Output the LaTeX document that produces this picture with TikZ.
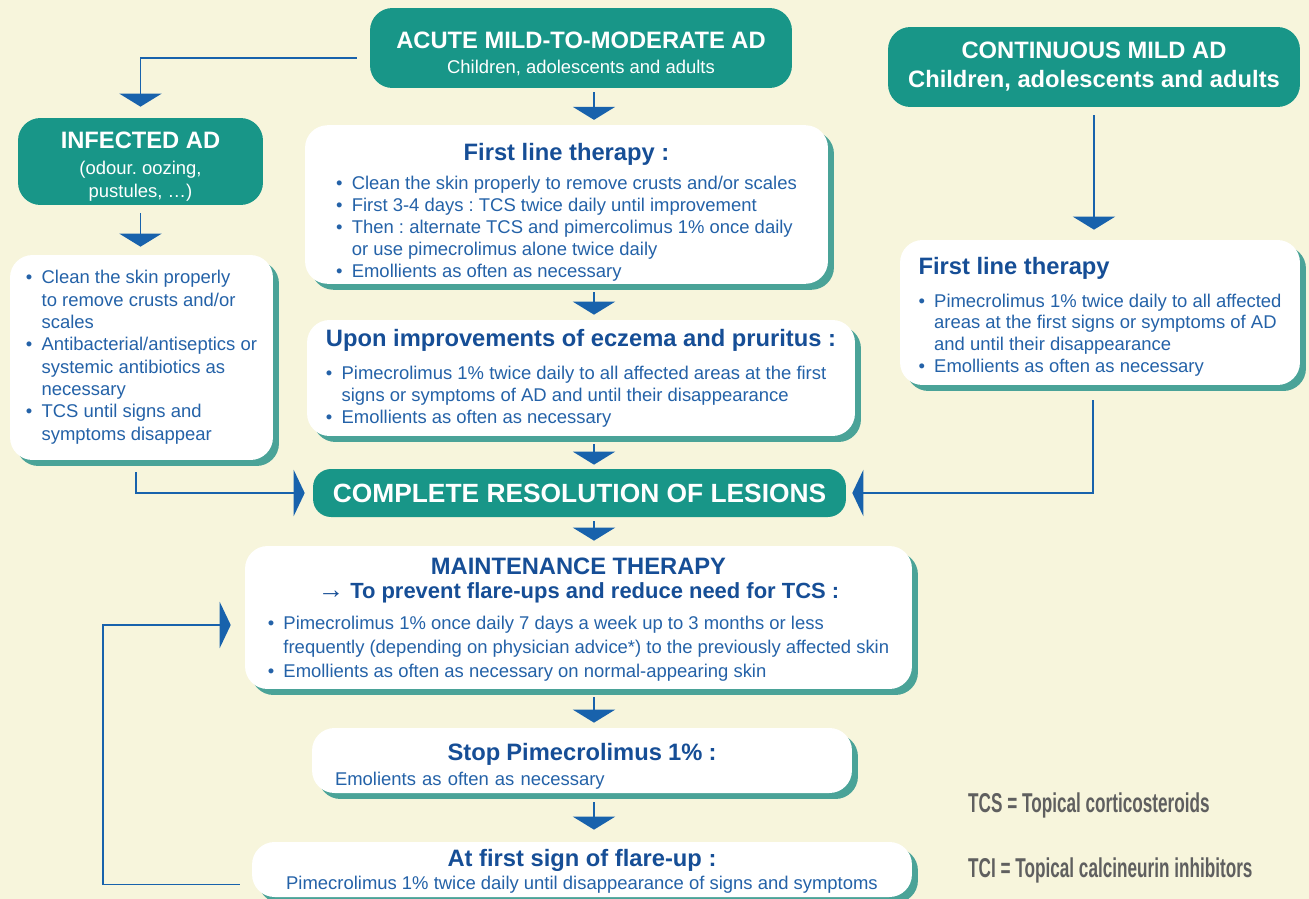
\documentclass[tikz,border=0pt]{standalone}
\usepackage{fontspec}
\setmainfont{Liberation Sans}
\newfontfamily\legendfont[FakeStretch=0.63]{Liberation Sans}
\usetikzlibrary{arrows.meta,shadows}
\frenchspacing

\definecolor{cream}{RGB}{247,245,220}
\definecolor{boxteal}{RGB}{24,150,136}
\definecolor{edgeteal}{RGB}{74,163,152}
\definecolor{titleblue}{RGB}{22,78,150}
\definecolor{bodyblue}{RGB}{36,98,168}
\definecolor{arrowblue}{RGB}{24,98,172}
\definecolor{legendgrey}{RGB}{95,95,95}

\newcommand{\bul}{\makebox[0.85em][l]{\textbullet}}
\newcommand{\hang}{\hspace*{0.85em}}
\newcommand{\btitle}[2]{\multicolumn{1}{@{}c@{}}{\rule{0pt}{#1}\fontsize{13.5}{16}\selectfont\bfseries\color{titleblue}#2}}
\newcommand{\ttl}[2]{{\rule{0pt}{#1}\fontsize{13.5}{16}\selectfont\bfseries #2}}

\tikzset{
  tealbox/.style={rectangle, rounded corners=0.45cm, fill=boxteal, text=white, inner sep=0pt, font=\fontsize{10.5}{13}\selectfont},
  whitebox/.style={rectangle, rounded corners=0.45cm, fill=white, text=bodyblue, inner sep=0pt,
    general shadow={fill=edgeteal, shadow xshift=0.12cm, shadow yshift=-0.12cm}, font=\fontsize{10.5}{12.5}\selectfont},
  flow/.style={draw=arrowblue, line width=1.1pt, -{Triangle[width=0.84cm,length=0.26cm]}},
  sideflow/.style={draw=arrowblue, line width=1.1pt, -{Triangle[width=0.92cm,length=0.22cm]}},
  legend/.style={anchor=west, text=legendgrey, font=\legendfont\bfseries\fontsize{15.5}{18}\selectfont}
}

\begin{document}
\begin{tikzpicture}[x=0.02cm, y=-0.02cm]
    \fill[cream] (0,0) rectangle (1309,899);
    \useasboundingbox (0,0) rectangle (1309,899);

    \node[tealbox, minimum width=8.44cm, minimum height=1.6cm] (acute) at (581,48) {\begin{tabular}{@{}c@{}}\ttl{19pt}{ACUTE MILD-TO-MODERATE AD}\\[1pt] Children, adolescents and adults\end{tabular}};
    \node[tealbox, minimum width=8.24cm, minimum height=1.6cm, font=\fontsize{13.5}{17}\selectfont\bfseries] (contin) at (1094,67) {\begin{tabular}{@{}c@{}}CONTINUOUS MILD AD\\ Children, adolescents and adults\end{tabular}};
    \node[tealbox, minimum width=4.9cm, minimum height=1.74cm] (infected) at (140.5,161.5) {\begin{tabular}{@{}c@{}}\ttl{17pt}{INFECTED AD}\\[2pt] (odour. oozing,\\ pustules, …)\end{tabular}};
    \node[tealbox, rounded corners=0.36cm, minimum width=10.66cm, minimum height=0.96cm, font=\fontsize{15}{18}\selectfont\bfseries] (complete) at (579.5,493) {COMPLETE RESOLUTION OF LESIONS};

    \node[whitebox, minimum width=5.26cm, minimum height=4.1cm, font=\fontsize{10.5}{12.7}\selectfont] (inflist) at (141.5,357.5) {\begin{tabular}{@{}l@{}}
        \bul Clean the skin properly\\ \hang to remove crusts and/or\\ \hang scales\\
        \bul Antibacterial/antiseptics or\\ \hang systemic antibiotics as\\ \hang necessary\\
        \bul TCS until signs and\\ \hang symptoms disappear\end{tabular}};
    \node[whitebox, minimum width=10.46cm, minimum height=3.1cm] (first) at (566.5,204.5) {\begin{tabular}{@{}l@{}}
        \btitle{20pt}{First line therapy :}\\[4pt]
        \bul Clean the skin properly to remove crusts and/or scales\\
        \bul First 3-4 days : TCS twice daily until improvement\\
        \bul Then : alternate TCS and pimercolimus 1\% once daily\\
        \hang or use pimecrolimus alone twice daily\\
        \bul Emollients as often as necessary\end{tabular}};
    \node[whitebox, minimum width=10.96cm, minimum height=2.32cm] (upon) at (581,378) {\begin{tabular}{@{}l@{}}
        \btitle{11.5pt}{Upon improvements of eczema and pruritus :}\\[6pt]
        \bul Pimecrolimus 1\% twice daily to all affected areas at the first\\
        \hang signs or symptoms of AD and until their disappearance\\
        \bul Emollients as often as necessary\end{tabular}};
    \node[whitebox, minimum width=8cm, minimum height=2.9cm] (contfirst) at (1100,312.5) {\begin{tabular}{@{}l@{}}
        \multicolumn{1}{@{}l@{}}{\rule{0pt}{16.5pt}\fontsize{13.5}{16}\selectfont\bfseries\color{titleblue}First line therapy}\\[6pt]
        \bul Pimecrolimus 1\% twice daily to all affected\\
        \hang areas at the first signs or symptoms of AD\\
        \hang and until their disappearance\\
        \bul Emollients as often as necessary\end{tabular}};
    \node[whitebox, minimum width=13.34cm, minimum height=2.86cm, font=\fontsize{10.5}{13.6}\selectfont] (maint) at (578.5,617.5) {\begin{tabular}{@{}l@{}}
        \btitle{13.5pt}{MAINTENANCE THERAPY}\\
        \multicolumn{1}{@{}c@{}}{\fontsize{12.5}{15}\selectfont\bfseries\color{titleblue}{\fontsize{15}{15}\selectfont →} To prevent flare-ups and reduce need for TCS :}\\[4pt]
        \bul Pimecrolimus 1\% once daily 7 days a week up to 3 months or less\\
        \hang frequently (depending on physician advice*) to the previously affected skin\\
        \bul Emollients as often as necessary on normal-appearing skin\end{tabular}};
    \node[whitebox, minimum width=10.8cm, minimum height=1.3cm, text width=9.88cm, align=left] (stop) at (582,760.5) {%
        \centerline{\rule{0pt}{16.5pt}\fontsize{13.5}{16}\selectfont\bfseries\color{titleblue}Stop Pimecrolimus 1\% :}\par\vspace{2pt}
        Emolients as often as necessary};
    \node[whitebox, minimum width=13.2cm, minimum height=1.1cm] (flare) at (582,869.5) {\begin{tabular}{@{}c@{}}
        \ttl{13.5pt}{\color{titleblue}At first sign of flare-up :}\\[1pt]
        Pimecrolimus 1\% twice daily until disappearance of signs and symptoms\end{tabular}};

    \node[legend] (tcs) at (962,805) {TCS = Topical corticosteroids};
    \node[legend] (tci) at (962,870) {TCI = Topical calcineurin inhibitors};

    \coordinate (axis) at (594,0);
    \coordinate (loop) at (103,625);
    \draw[flow, shorten <=0.08cm, shorten >=0.1cm] (acute.south -| axis) -- (first.north -| axis);
    \draw[flow, shorten <=0.16cm, shorten >=0.1cm] (first.south -| axis) -- (upon.north -| axis);
    \draw[flow, shorten <=0.16cm, shorten >=0.08cm] (upon.south -| axis) -- (complete.north -| axis);
    \draw[flow, shorten <=0.08cm, shorten >=0.1cm] (complete.south -| axis) -- (maint.north -| axis);
    \draw[flow, shorten <=0.16cm, shorten >=0.1cm] (maint.south -| axis) -- (stop.north -| axis);
    \draw[flow, shorten <=0.18cm, shorten >=0.24cm] (stop.south -| axis) -- (flare.north -| axis);
    \draw[flow, shorten <=0.26cm, shorten >=0.22cm] ([yshift=-0.2cm]acute.west) -| (infected.north);
    \draw[flow, shorten <=0.16cm, shorten >=0.16cm] (infected.south) -- (infected.south |- inflist.north);
    \draw[flow, shorten <=0.16cm, shorten >=0.2cm] (contin.south) -- (contin.south |- contfirst.north);
    \draw[sideflow, shorten <=0.24cm, shorten >=0.16cm] ([xshift=-0.11cm]inflist.south) |- (complete.west);
    \draw[sideflow, shorten <=0.3cm, shorten >=0.12cm] ([xshift=-0.14cm]contfirst.south) |- (complete.east);
    \draw[sideflow, shorten <=0.24cm, shorten >=0.28cm] ([yshift=-0.3cm]flare.west) -| (loop) |- ([yshift=-0.15cm]maint.west);
\end{tikzpicture}
\end{document}
